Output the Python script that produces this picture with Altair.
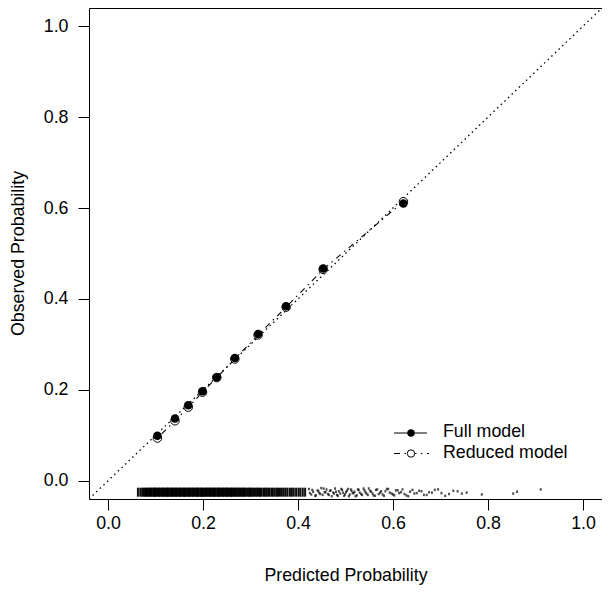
import altair as alt
import pandas as pd

# Calibration groups
pred_full = [0.104, 0.141, 0.169, 0.199, 0.229, 0.267, 0.316, 0.375, 0.453, 0.622]
obs_full = [0.099, 0.137, 0.166, 0.197, 0.228, 0.270, 0.323, 0.384, 0.467, 0.610]
pred_reduced = [0.104, 0.141, 0.169, 0.199, 0.229, 0.267, 0.316, 0.375, 0.453, 0.622]
obs_reduced = [0.094, 0.132, 0.162, 0.195, 0.227, 0.268, 0.321, 0.382, 0.465, 0.614]

# Rug of individual predictions (thousandths), dense part
rug_dense = [63, 68, 72, 75, 78, 80, 83, 85, 88, 90, 92, 95, 97, 99, 101, 104, 106, 108,
             110, 113, 115, 117, 119, 122, 124, 126, 128, 131, 133, 135, 137, 140, 142,
             144, 146, 149, 151, 153, 155, 158, 160, 162, 164, 167, 169, 171, 173, 176,
             178, 180, 182, 185, 187, 189, 191, 194, 196, 198, 200, 203, 205, 207, 209,
             212, 214, 216, 218, 221, 223, 225, 227, 230, 232, 234, 236, 239, 241, 243,
             245, 248, 250, 252, 254, 257, 259, 261, 264, 266, 268, 271, 273, 276, 278,
             281, 283, 286, 288, 291, 294, 297, 299, 302, 305, 308, 311, 314, 317, 320,
             323, 327, 330, 333, 337, 340, 344, 347, 351, 355, 358, 362, 366, 370, 374,
             378, 383, 387, 391, 396, 401, 405, 410, 415]
# sparse part: x (thousandths) and vertical jitter (thousandths)
rug_sparse_x = [423, 428, 432, 436, 441, 445, 449, 452, 456, 460,
                463, 467, 471, 474, 478, 482, 486, 489, 493, 497,
                501, 505, 509, 513, 517, 521, 526, 530, 535, 540,
                544, 549, 554, 559, 564, 570, 575, 581, 587, 593,
                600, 606, 613, 620, 628, 636, 645, 655, 665, 676,
                688, 702, 718, 736, 755, 787, 853, 861, 911,
                425, 430, 438, 443, 447, 454, 458, 465, 469, 476,
                480, 484, 491, 495, 499, 503, 507, 511, 515, 519,
                524, 528, 533, 538, 542, 547, 552, 557, 562, 567,
                573, 578, 584, 590, 597, 603, 610, 617, 624, 632,
                641, 650, 660, 671, 682, 695, 710, 727, 745]
rug_sparse_y = [-18, -30, -24, -33, -21, -27, -16, -31, -25, -19,
                -29, -22, -34, -26, -17, -31, -23, -28, -20, -33,
                -25, -18, -30, -22, -27, -34, -19, -26, -31, -21,
                -28, -17, -24, -32, -20, -29, -23, -33, -18, -26,
                -30, -21, -27, -19, -32, -24, -28, -22, -31, -25,
                -20, -27, -29, -23, -26, -30, -28, -24, -19,
                -27, -20, -32, -23, -29, -17, -25, -31, -21, -28,
                -24, -33, -18, -26, -30, -22, -34, -19, -27, -24,
                -32, -20, -29, -17, -25, -31, -22, -28, -33, -19,
                -26, -30, -23, -18, -28, -32, -21, -25, -29, -34,
                -20, -27, -23, -31, -26, -19, -33, -22, -28]

axis_ticks = [0.0, 0.2, 0.4, 0.6, 0.8, 1.0]
domain = [-0.04, 1.04]
legend_labels = ["Full model", "Reduced model"]

FONT = "Liberation Sans"
FS = 17.8

full_df = pd.DataFrame({"pred": pred_full, "obs": obs_full})
red_df = pd.DataFrame({"pred": pred_reduced, "obs": obs_reduced})
diag_df = pd.DataFrame({"pred": domain, "obs": domain})
rug_d = pd.DataFrame({"pred": [v / 1000 for v in rug_dense], "obs": [-0.025] * len(rug_dense)})
rug_s = pd.DataFrame({"pred": [v / 1000 for v in rug_sparse_x],
                      "obs": [v / 1000 for v in rug_sparse_y]})

xs = alt.Scale(domain=domain, nice=False, zero=False)
ys = alt.Scale(domain=domain, nice=False, zero=False)

xax = alt.Axis(values=axis_ticks, format=".1f", title="Predicted Probability",
               titleY=81, titleBaseline="alphabetic", labelPadding=4)
yax = alt.Axis(values=axis_ticks, format=".1f", title="Observed Probability",
               titleX=-66, titleY=245, titleBaseline="alphabetic", labelPadding=10)

X = alt.X("pred:Q", scale=xs, axis=xax)
Y = alt.Y("obs:Q", scale=ys, axis=yax)
Xn = alt.X("pred:Q", scale=xs)
Yn = alt.Y("obs:Q", scale=ys)

diag = alt.Chart(diag_df).mark_line(color="black", strokeWidth=1.3, strokeDash=[1.5, 3.5],
                                    clip=True).encode(x=X, y=Y)
red_line = alt.Chart(red_df).mark_line(color="black", strokeWidth=1.1,
                                       strokeDash=[1.5, 4.5, 6, 4.5]).encode(x=Xn, y=Yn)
red_pts = alt.Chart(red_df).mark_point(shape="circle", size=72, filled=True, fill="white",
                                       stroke="black", strokeWidth=1, opacity=1).encode(x=Xn, y=Yn)
full_pts = alt.Chart(full_df).mark_point(shape="circle", size=72, filled=True,
                                         color="black", opacity=1).encode(x=Xn, y=Yn)
rug1 = alt.Chart(rug_d).mark_tick(color="black", thickness=2, size=9, opacity=0.95).encode(x=Xn, y=Yn)
rug2 = alt.Chart(rug_s).mark_tick(color="black", thickness=2, size=2.5).encode(x=Xn, y=Yn)

one = pd.DataFrame({"a": [0]})
leg_full_line = alt.Chart(one).mark_rule(color="black", strokeWidth=1).encode(
    x=alt.value(305), x2=alt.value(338), y=alt.value(425))
leg_red_line = alt.Chart(one).mark_rule(color="black", strokeWidth=1,
                                        strokeDash=[6, 4.5, 1.5, 4.5]).encode(
    x=alt.value(305), x2=alt.value(340), y=alt.value(445.5))
leg_full_pt = alt.Chart(one).mark_point(shape="circle", size=55, filled=True, color="black",
                                        opacity=1).encode(x=alt.value(322), y=alt.value(425))
leg_red_pt = alt.Chart(one).mark_point(shape="circle", size=55, filled=True, fill="white",
                                       stroke="black", strokeWidth=1, opacity=1).encode(
    x=alt.value(322), y=alt.value(445.5))
leg_txt = pd.DataFrame({"label": legend_labels})
leg_text1 = alt.Chart(leg_txt).transform_filter(alt.datum.label == legend_labels[0]).mark_text(
    align="left", baseline="middle", font=FONT, fontSize=FS, color="black").encode(
    x=alt.value(354), y=alt.value(424), text="label:N")
leg_text2 = alt.Chart(leg_txt).transform_filter(alt.datum.label == legend_labels[1]).mark_text(
    align="left", baseline="middle", font=FONT, fontSize=FS, color="black").encode(
    x=alt.value(354), y=alt.value(445), text="label:N")

chart = alt.layer(
    diag, rug1, rug2, red_line, red_pts, full_pts,
    leg_full_line, leg_red_line, leg_full_pt, leg_red_pt, leg_text1, leg_text2
).properties(
    width=513, height=491,
    autosize=alt.AutoSizeParams(type="none"),
    padding={"left": 81, "top": 0, "right": 0, "bottom": 92},
    background="white",
).configure_view(
    stroke="black", strokeWidth=1
).configure_axis(
    grid=False, domain=False, tickColor="black", tickSize=11, tickWidth=1,
    labelFont=FONT, labelFontSize=FS, labelColor="black",
    titleFont=FONT, titleFontSize=FS, titleColor="black", titleFontWeight="normal",
)

chart.save("out.html", embed_options={"renderer": "svg", "actions": False})
